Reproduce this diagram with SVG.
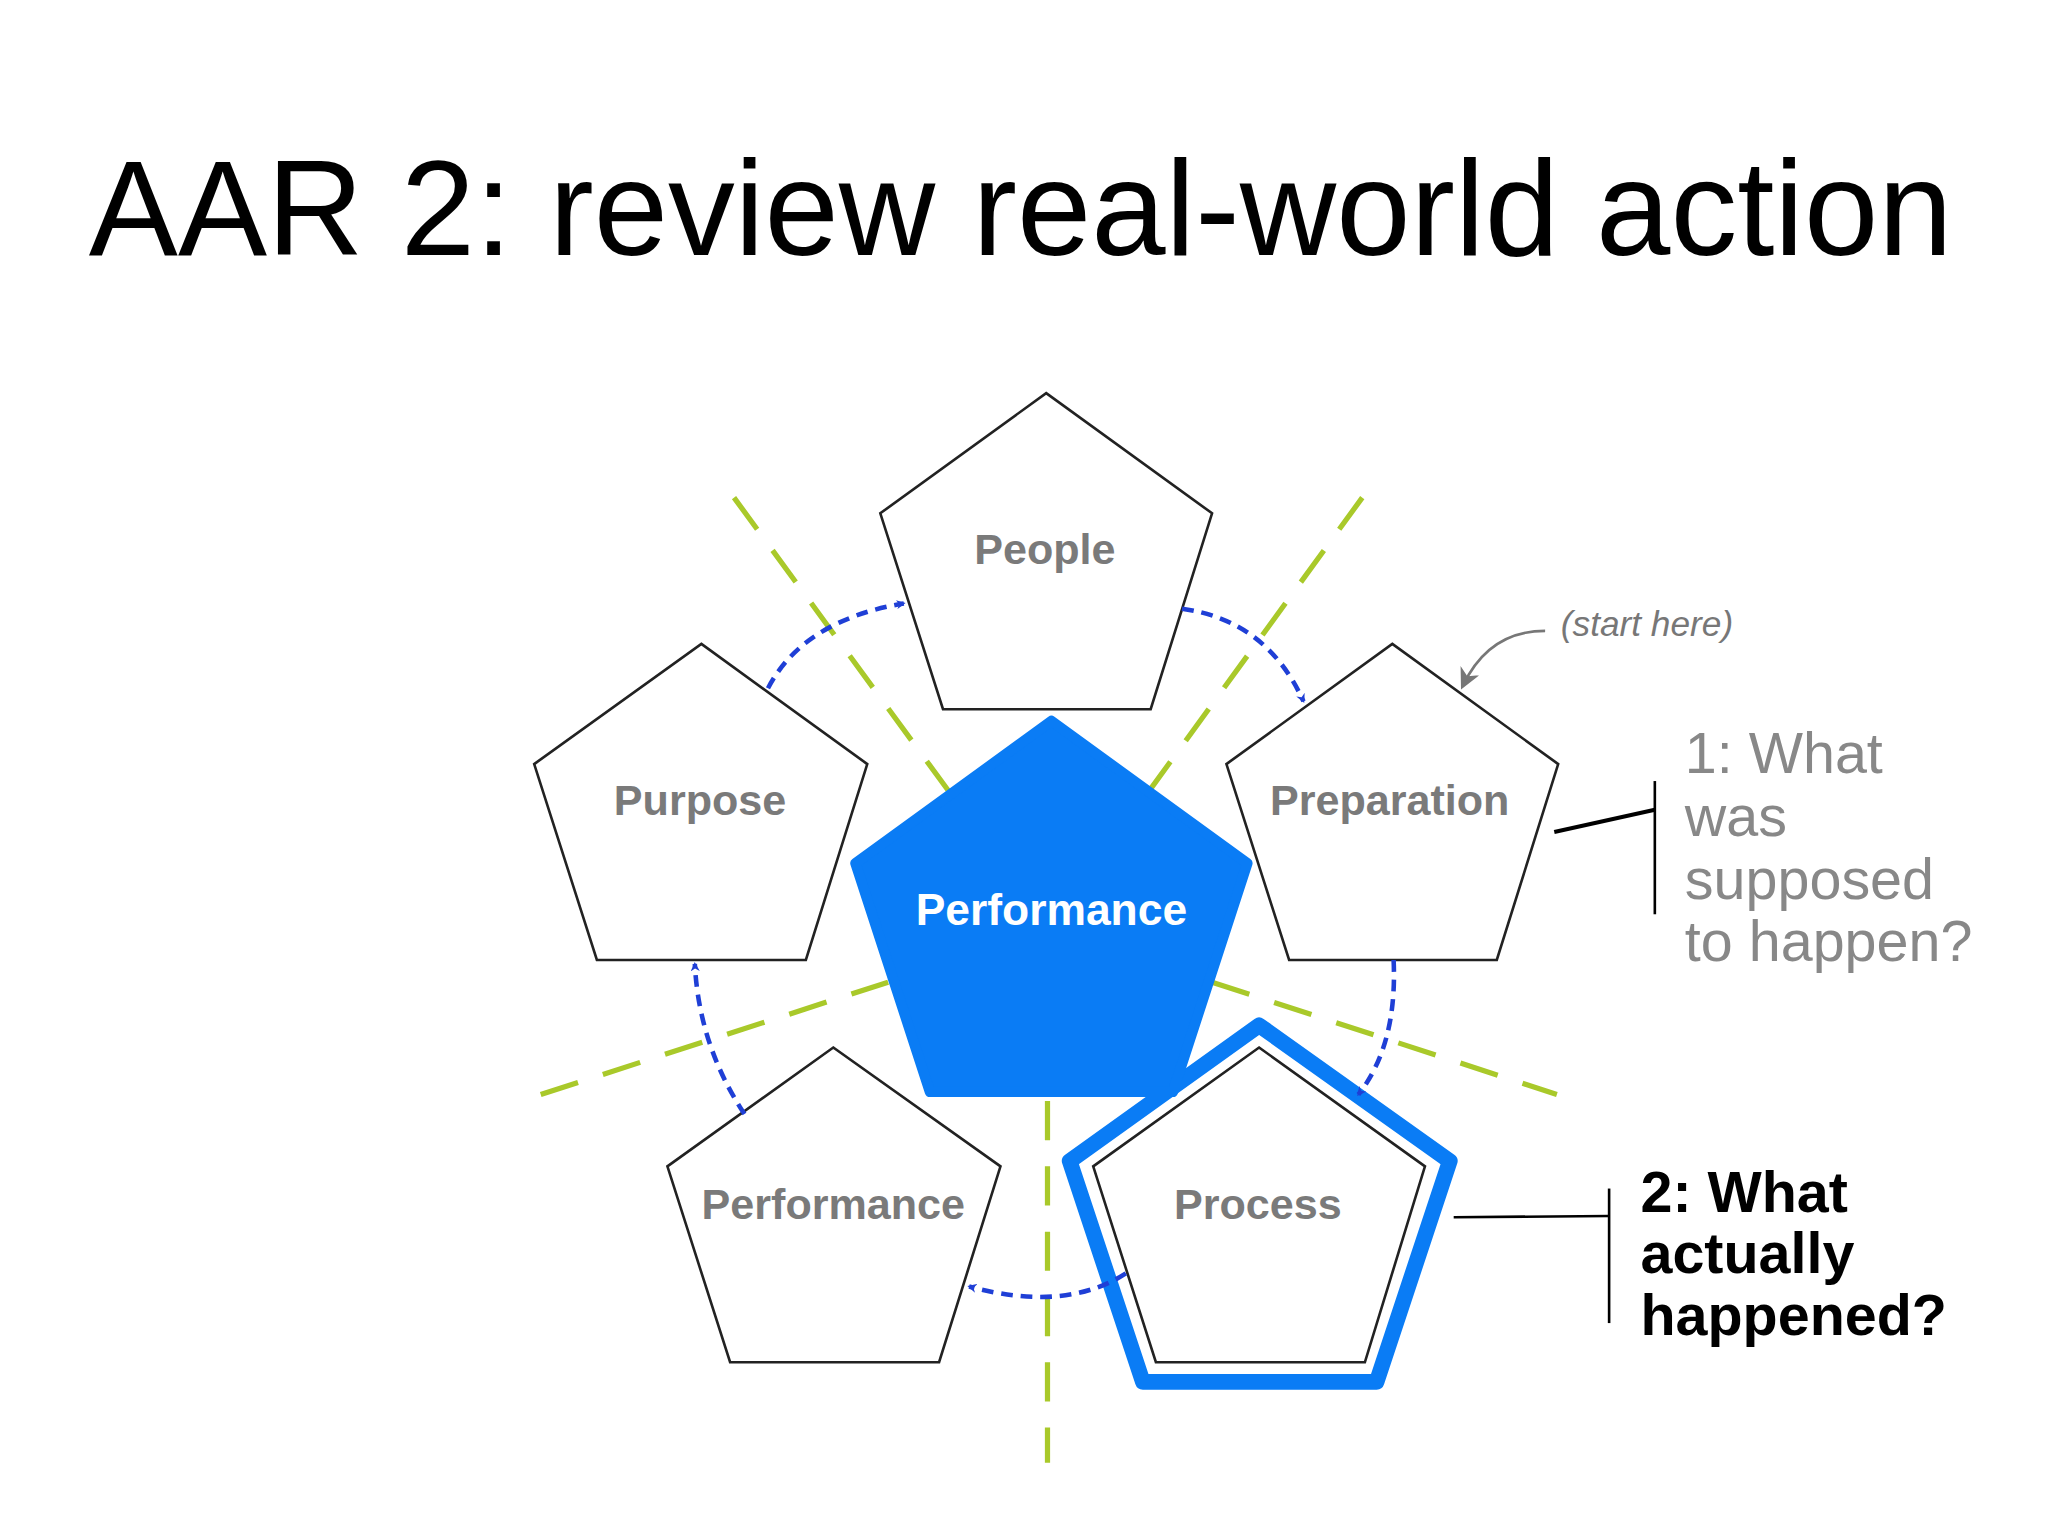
<svg xmlns="http://www.w3.org/2000/svg" width="2048" height="1536" viewBox="0 0 2048 1536">
<defs>
<style>
.pent{fill:#fff;stroke:#222;stroke-width:2}
.lbl{font-family:"Liberation Sans",Arial,sans-serif;font-weight:bold;font-size:33px;fill:#7a7a7a;text-anchor:middle}
.g{stroke:#a9c92a;stroke-width:4;stroke-dasharray:30 20;fill:none}
.b{stroke:#1f3fd6;stroke-width:3.5;stroke-dasharray:9 6;fill:none;marker-end:url(#ah)}
.q{font-family:"Liberation Sans",Arial,sans-serif;font-size:44px}
</style>
<marker id="ah" viewBox="0 0 10 10" refX="8" refY="5" markerWidth="7" markerHeight="7" orient="auto" markerUnits="userSpaceOnUse" >
<path d="M0,0 L10,5 L0,10 L3,5 z" fill="#1f3fd6"/>
</marker>
<marker id="ah2" viewBox="0 0 10 10" refX="8" refY="5" markerWidth="16" markerHeight="16" orient="auto" markerUnits="userSpaceOnUse">
<path d="M0,0 L10,5 L0,10 L3,5 z" fill="#777"/>
</marker>
</defs>
<rect width="2048" height="1536" fill="#fff"/>
<g transform="scale(1.3061)">
<text x="68" y="195" font-family="Liberation Sans,Arial,sans-serif" font-size="104" textLength="1427" lengthAdjust="spacingAndGlyphs">AAR 2: review real-world action</text>
<g id="guides">
<line class="g" x1="562" y1="381" x2="728" y2="608"/>
<line class="g" x1="1043" y1="381" x2="881" y2="604"/>
<line class="g" x1="414" y1="838" x2="680" y2="752"/>
<line class="g" x1="928" y1="752" x2="1192" y2="838"/>
<line class="g" x1="802" y1="843" x2="802" y2="1120"/>
</g>
<g id="people"><polygon class="pent" points="801,301 928,393 881,543 722,543 674,393"/><text class="lbl" x="800" y="432">People</text></g>
<g id="purpose"><polygon class="pent" points="537,493 664,585 617,735 457,735 409,585"/><text class="lbl" x="536" y="624">Purpose</text></g>
<g id="preparation"><polygon class="pent" points="1066,493 1193,585 1146,735 987,735 939,585"/><text class="lbl" x="1064" y="624">Preparation</text></g>
<g id="performance2"><polygon class="pent" points="638,802 766,893 719,1043 559,1043 511,893"/><text class="lbl" x="638" y="933">Performance</text></g>
<g id="process"><polygon points="964,785 1110,889 1054,1058 875,1058 819,889" fill="none" stroke="#0a7cf5" stroke-width="12" stroke-linejoin="round"/><polygon class="pent" points="964,802 1091,893 1045,1043 885,1043 837,893"/><text class="lbl" x="963" y="933">Process</text></g>
<g id="center"><polygon points="805,552 955,661 898,836 712,836 655,661" fill="#0a7cf5" stroke="#0a7cf5" stroke-width="8" stroke-linejoin="round"/><text x="805" y="708" font-family="Liberation Sans,Arial,sans-serif" font-weight="bold" font-size="34" fill="#fff" text-anchor="middle">Performance</text></g>
<g id="connectors">
<path class="b" d="M588,527 Q615,475 692,462"/>
<path class="b" d="M905,466 Q970,475 998,537"/>
<path class="b" d="M1067,735 Q1070,800 1040,838"/>
<path class="b" d="M862,975 Q815,1005 742,985"/>
<path class="b" d="M570,853 Q535,800 532,738"/>
<path d="M1183,483 Q1140,483 1120,525" fill="none" stroke="#777" stroke-width="2" marker-end="url(#ah2)"/>
<polyline points="1190,637 1267,620" fill="none" stroke="#000" stroke-width="3"/>
<line x1="1267" y1="598" x2="1267" y2="700" stroke="#000" stroke-width="2"/>
<line x1="1113" y1="932" x2="1232" y2="931" stroke="#000" stroke-width="2"/>
<line x1="1232" y1="910" x2="1232" y2="1013" stroke="#000" stroke-width="2"/>
</g>
<text x="1195" y="487" font-family="Liberation Sans,Arial,sans-serif" font-style="italic" font-size="27" fill="#777">(start here)</text>
<g class="q" fill="#888"><text x="1290" y="592">1: What</text><text x="1290" y="640">was</text><text x="1290" y="688">supposed</text><text x="1290" y="736">to happen?</text></g>
<g class="q" fill="#000" font-weight="bold"><text x="1256" y="928">2: What</text><text x="1256" y="975">actually</text><text x="1256" y="1022">happened?</text></g>
</g>
</svg>
